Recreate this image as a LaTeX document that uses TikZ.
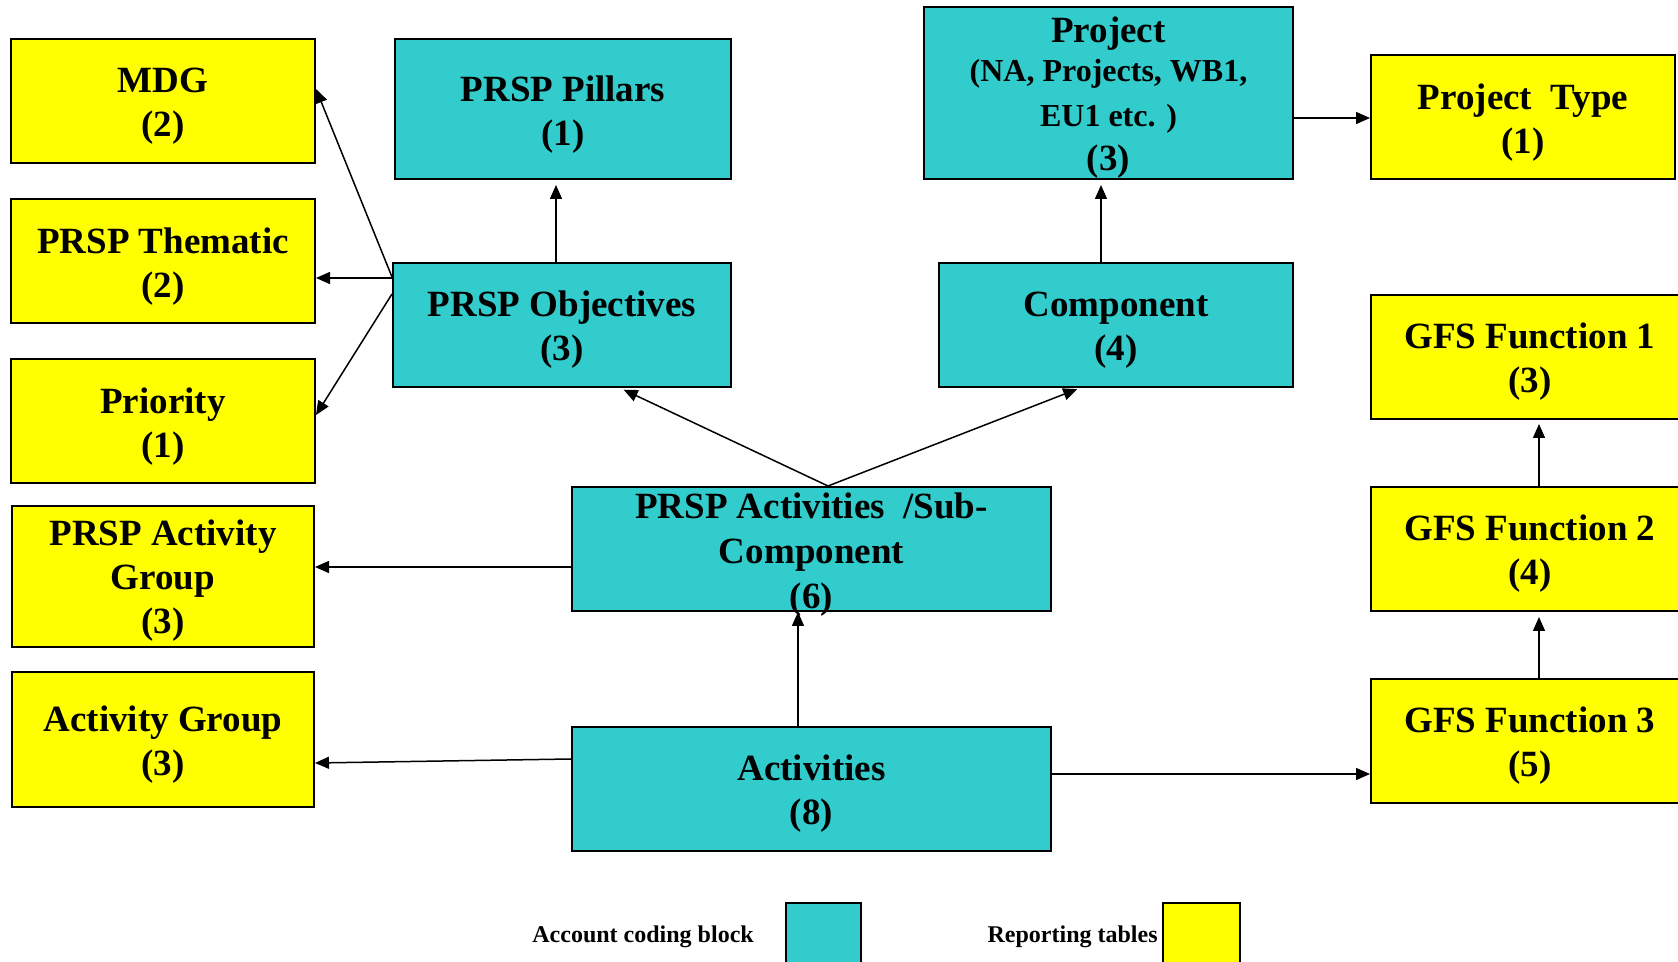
\documentclass[tikz,border=0pt]{standalone}
\usepackage{fontspec}
\setmainfont{Liberation Serif}
\usetikzlibrary{arrows.meta,calc}
\definecolor{acb}{RGB}{51,204,204}
\definecolor{rpt}{RGB}{255,255,0}
\begin{document}
\begin{tikzpicture}[x=0.5pt,y=-0.5pt,
  box/.style={draw=black,line width=1pt,rectangle,inner sep=0pt},
  cyanbox/.style={box,fill=acb},
  yelbox/.style={box,fill=rpt},
  sz/.style 2 args={minimum width=#1,minimum height=#2},
  txt/.style={inner sep=0pt,align=center,font=\bfseries\fontsize{18.5}{22}\selectfont},
  legtxt/.style={inner sep=0pt,font=\bfseries\fontsize{12}{14}\selectfont},
  arr/.style={draw=black,line width=0.75pt,-{Triangle[length=7pt,width=6pt]}}]
\useasboundingbox (0,0) rectangle (1678,962);
\fill[white] (0,0) rectangle (1678,962);

% reporting tables (yellow)
\node[yelbox,sz={152pt}{62pt}] (mdg) at (163,101) {};
\node[yelbox,sz={152pt}{62pt}] (them) at (163,261) {};
\node[yelbox,sz={152pt}{62pt}] (prio) at (163,421) {};
\node[yelbox,sz={151pt}{70.5pt}] (pag) at (163,576.5) {};
\node[yelbox,sz={151pt}{67.5pt}] (ag) at (163,739.5) {};
\node[yelbox,sz={152pt}{62pt}] (type) at (1523,117) {};
\node[yelbox,sz={159pt}{62pt}] (gfs1) at (1530,357) {};
\node[yelbox,sz={159pt}{62pt}] (gfs2) at (1530,549) {};
\node[yelbox,sz={159pt}{62pt}] (gfs3) at (1530,741) {};

% account coding block (cyan)
\node[cyanbox,sz={168pt}{70pt}] (pil) at (563,109) {};
\node[cyanbox,sz={169pt}{62pt}] (obj) at (562,325) {};
\node[cyanbox,sz={184.5pt}{86pt}] (proj) at (1108.5,93) {};
\node[cyanbox,sz={177pt}{62pt}] (comp) at (1116,325) {};
\node[cyanbox,sz={239.5pt}{62pt}] (sub) at (811.5,549) {};
\node[cyanbox,sz={239.5pt}{62pt}] (act) at (811.5,789) {};

% texts
\node[txt] (tmdg) at ([yshift=-2.6pt]mdg.center) {MDG\\(2)};
\node[txt] (tthem) at ([yshift=-2.6pt]them.center) {PRSP Thematic\\(2)};
\node[txt] (tprio) at ([yshift=-2.6pt]prio.center) {Priority\\(1)};
\node[txt] (tpag) at ([yshift=-2.2pt]pag.center) {PRSP Activity\\Group\\(3)};
\node[txt] (tag) at ([yshift=-2.6pt]ag.center) {Activity Group\\(3)};
\node[txt] (ttype) at ([yshift=-2.6pt]type.center) {Project\ \ Type\\(1)};
\node[txt] (tg1) at ([yshift=-2.4pt]gfs1.center) {GFS Function 1\\(3)};
\node[txt] (tg2) at ([yshift=-2.4pt]gfs2.center) {GFS Function 2\\(4)};
\node[txt] (tg3) at ([yshift=-2.4pt]gfs3.center) {GFS Function 3\\(5)};
\node[txt] (tpil) at ([yshift=-2.6pt]pil.center) {PRSP Pillars\\(1)};
\node[txt] (tobj) at ([yshift=-2.4pt]obj.center) {PRSP Objectives\\(3)};
\node[txt] (tproj) at ([yshift=-2.5pt]proj.center) {Project\\[-2.5pt]{\fontsize{16}{19}\selectfont(NA, Projects, WB1,}\\[0.5pt]{\fontsize{16}{19}\selectfont EU1 etc. )}\\(3)};
\node[txt] (tcomp) at ([yshift=-2.4pt]comp.center) {Component\\(4)};
\node[txt] (tsub) at ([yshift=-3pt]sub.center) {PRSP Activities\ \ /Sub-\\[0.5pt]Component\\[0.5pt](6)};
\node[txt] (tact) at ([yshift=-2.4pt]act.center) {Activities\\(8)};

% connectors
\draw[arr,shorten >=2.5pt] ([xshift=-3pt]obj.north) -- ([xshift=-3pt]obj.north |- pil.south);
\draw[arr] ([yshift=-7.5pt]obj.north west) -- ([yshift=6pt]mdg.east);
\draw[arr] ([yshift=-8pt]obj.north west) coordinate (t1) -- (t1 -| them.east);
\draw[arr] ([yshift=-16pt]obj.north west) -- ([yshift=3pt]prio.east);
\draw[arr,shorten >=2pt] ([xshift=8.25pt]sub.north) coordinate (apex) -- ([xshift=29pt]obj.south);
\draw[arr,shorten >=1.5pt] (apex) -- ([xshift=-18pt]comp.south);
\draw[arr,shorten >=2.5pt] ([xshift=-7.5pt]comp.north) -- ([xshift=-7.5pt]comp.north |- proj.south);
\draw[arr] ([yshift=-12.5pt]proj.east) coordinate (p1) -- (p1 -| type.west);
\draw[arr] ([yshift=-9pt]sub.west) coordinate (s1) -- (s1 -| pag.east);
\draw[arr] ([yshift=15pt]act.west) -- ([yshift=-11.75pt]ag.east);
\draw[arr] ([xshift=-6.75pt]act.north) -- ([xshift=-6.75pt]act.north |- sub.south);
\draw[arr] ([yshift=7.5pt]act.east) coordinate (a1) -- (a1 -| gfs3.west);
\draw[arr,shorten >=2.5pt] ([xshift=4.5pt]gfs3.north) -- ([xshift=4.5pt]gfs3.north |- gfs2.south);
\draw[arr,shorten >=2pt] ([xshift=4.5pt]gfs2.north) -- ([xshift=4.5pt]gfs2.north |- gfs1.south);

% legend
\node[legtxt,anchor=base west] (l1) at (532,942) {Account coding block};
\node[draw=black,line width=1pt,fill=acb,inner sep=0pt,minimum width=37.5pt,minimum height=45pt] (leg1) at (823.5,948) {};
\node[legtxt,anchor=base east] (l2) at (1158,942) {Reporting tables};
\node[draw=black,line width=1pt,fill=rpt,inner sep=0pt,minimum width=38.5pt,minimum height=45pt] (leg2) at (1201.5,948) {};
\end{tikzpicture}
\end{document}
